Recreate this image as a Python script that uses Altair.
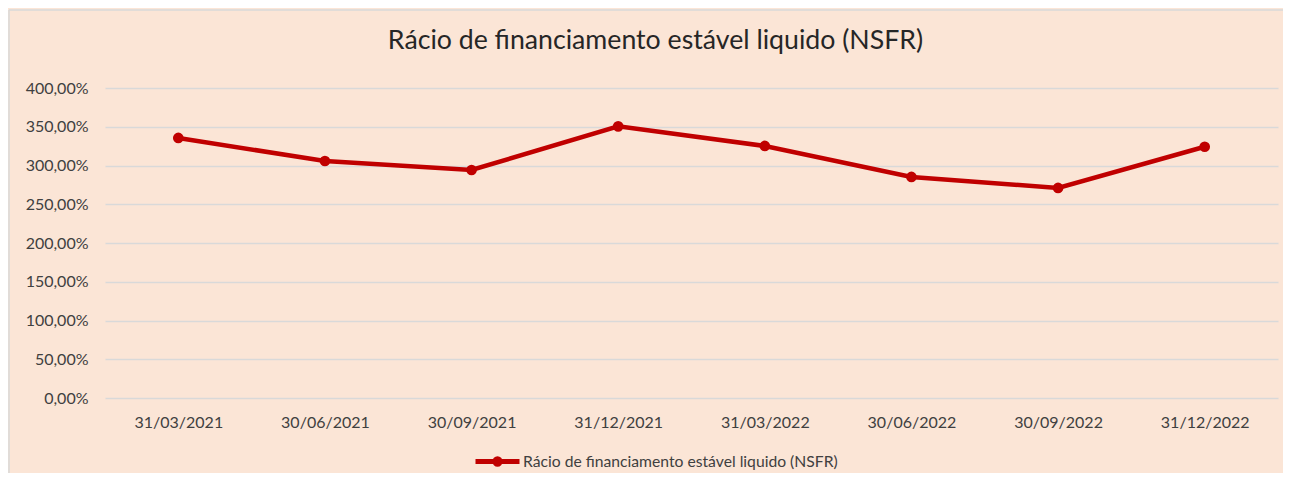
import altair as alt
import pandas as pd

dates = ["31/03/2021", "30/06/2021", "30/09/2021", "31/12/2021",
         "31/03/2022", "30/06/2022", "30/09/2022", "31/12/2022"]
values = [335.5, 305.8, 294.2, 350.5, 325.2, 285.2, 271.0, 324.2]
series_name = "Rácio de financiamento estável liquido (NSFR)"
y_ticks = [0, 50, 100, 150, 200, 250, 300, 350, 400]

df = pd.DataFrame({"data": dates, "valor": values, "serie": [series_name] * len(dates)})

RED = "#C00000"
FONT = "Lato"

x = alt.X("data:N", sort=dates, title=None,
          scale=alt.Scale(type="point", padding=0.5),
          axis=alt.Axis(labelAngle=0, ticks=False, domain=False, grid=False,
                        labelFontSize=16, labelColor="#404040", labelFont=FONT,
                        labelPadding=16))
y = alt.Y("valor:Q", title=None,
          scale=alt.Scale(domain=[0, 400], nice=False),
          axis=alt.Axis(values=y_ticks, ticks=False, domain=False, grid=True,
                        gridColor="#D9D9D9", gridWidth=1.5,
                        labelFontSize=16, labelColor="#404040", labelFont=FONT,
                        labelPadding=17,
                        labelExpr="replace(format(datum.value, '.2f'), '.', ',') + '%'"))

legend_path = "M-1,0L1,0M0.12,0A0.12,0.12,0,1,1,-0.12,0A0.12,0.12,0,1,1,0.12,0"

line = alt.Chart(df).mark_line(strokeWidth=4.5).encode(
    x=x, y=y,
    color=alt.Color("serie:N", scale=alt.Scale(range=[RED]), title=None,
                    legend=alt.Legend(orient="none", legendX=368, legendY=349,
                                      symbolType=legend_path, symbolSize=1936,
                                      symbolStrokeWidth=5, symbolStrokeColor=RED,
                                      symbolFillColor=RED, labelOffset=1,
                                      labelFontSize=15.7, labelFont=FONT,
                                      labelColor="#404040", padding=0,
                                      labelLimit=600))
)
pts = alt.Chart(df).mark_circle(size=115, color=RED, opacity=1).encode(x=x, y=y)

border_data = alt.Data(values=[{}])
top_border = alt.Chart(border_data).mark_rule(color="#D9D9D9", strokeWidth=1.5).encode(
    x=alt.value(-96), x2=alt.value(1190), y=alt.value(-78))
left_border = alt.Chart(border_data).mark_rule(color="#D9D9D9", strokeWidth=1.5).encode(
    x=alt.value(-96), y=alt.value(-78), y2=alt.value(400))

chart = alt.layer(top_border, left_border, line, pts).properties(
    width=1173, height=310,
    title=alt.TitleParams(series_name, fontSize=26.7, font=FONT, fontWeight="normal",
                          color="#262626", anchor="middle", frame="group", dx=-36,
                          offset=-66, baseline="alphabetic"),
    autosize=alt.AutoSizeParams(type="none"),
    padding={"left": 97, "top": 80, "right": 5, "bottom": 75},
    background="#FBE5D6",
).configure_view(stroke=None)

chart.save("out.html", embed_options={"renderer": "svg", "actions": False})
